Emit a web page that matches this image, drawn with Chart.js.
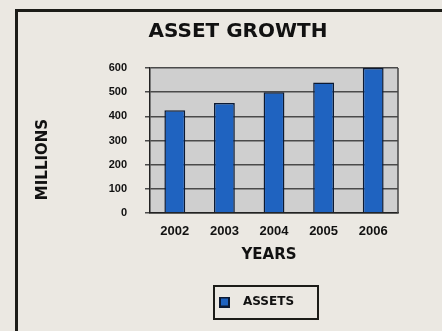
<!DOCTYPE html>
<html>
<head>
<meta charset="utf-8">
<script src="https://cdn.jsdelivr.net/npm/chart.js@4"></script>
<style>
  html, body { margin: 0; padding: 0; }
  body { width: 442px; height: 331px; background: #ebe8e2; position: relative; overflow: hidden; }
  #frame { position: absolute; left: 15px; top: 9px; width: 500px; height: 400px;
           border-left: 3px solid #1c1c18; border-top: 3px solid #1c1c18; }
  #wrap { position: absolute; left: 0; top: 0; width: 442px; height: 331px; }
</style>
</head>
<body>
<div id="frame"></div>
<div id="wrap"><canvas id="c" width="442" height="331"></canvas></div>
<script>
const years = ['2002', '2003', '2004', '2005', '2006'];
const assets = [425, 455, 500, 540, 600];
const yTicks = [0, 100, 200, 300, 400, 500, 600];
const chartTitle = 'ASSET GROWTH';
const yTitle = 'MILLIONS';
const xTitle = 'YEARS';
const seriesName = 'ASSETS';

const BAR_BLUE = '#1f63c0';
const BAR_EDGE = '#0c1a33';

// small legend swatch
const sw = document.createElement('canvas');
sw.width = 11; sw.height = 11;
(function () {
  const g = sw.getContext('2d');
  g.fillStyle = BAR_EDGE; g.fillRect(0, 0, 11, 11);
  g.fillStyle = BAR_BLUE; g.fillRect(2, 2, 7, 7);
})();

function offsetTitle(scale, dx, dy) {
  if (scale._titleWrapped) return;
  const orig = scale.drawTitle;
  scale.drawTitle = function () {
    const ctx = this.ctx;
    ctx.save();
    ctx.translate(dx, dy);
    orig.apply(this, arguments);
    ctx.restore();
  };
  scale._titleWrapped = true;
}

const shiftPlugin = {
  id: 'shift',
  afterLayout(chart) {
    const t = chart.titleBlock;
    if (t) { t.left += 22; t.right += 22; }
    const l = chart.legend;
    if (l) { l.left += 37; l.right += 37; }
    offsetTitle(chart.scales.y, 0, 19);
    offsetTitle(chart.scales.x, -5, 0);
  },
  beforeDraw(chart) {
    const {ctx, chartArea: a} = chart;
    ctx.save();
    ctx.fillStyle = '#cfcfcf';
    ctx.fillRect(a.left, a.top, a.right - a.left, a.bottom - a.top);
    ctx.restore();
  },
  afterDraw(chart) {
    const {ctx, chartArea: a} = chart;
    ctx.save();
    ctx.strokeStyle = '#444';
    ctx.lineWidth = 1.5;
    ctx.beginPath();
    ctx.moveTo(a.right, a.top); ctx.lineTo(a.right, a.bottom);
    ctx.stroke();
    // legend frame
    const l = chart.legend;
    if (l && l.legendHitBoxes && l.legendHitBoxes.length) {
      ctx.strokeStyle = '#1c1c18';
      ctx.lineWidth = 2;
      ctx.strokeRect(214, 286, 104, 33);
    }
    ctx.restore();
  }
};

new Chart(document.getElementById('c'), {
  type: 'bar',
  data: {
    labels: years,
    datasets: [{
      label: seriesName,
      data: assets,
      backgroundColor: BAR_BLUE,
      borderColor: BAR_EDGE,
      borderWidth: 1.5,
      categoryPercentage: 1,
      barPercentage: 0.42,
      pointStyle: sw
    }]
  },
  options: {
    responsive: false,
    animation: false,
    devicePixelRatio: 1,
    layout: { padding: { left: 34, right: 44, top: 0, bottom: 13 } },
    plugins: {
      title: {
        display: true,
        text: chartTitle,
        color: '#111',
        font: { family: 'DejaVu Sans', size: 20, weight: 'bold' },
        padding: { top: 20, bottom: 24 }
      },
      legend: {
        display: true,
        position: 'bottom',
        labels: {
          usePointStyle: true,
          pointStyleWidth: 25,
          padding: 10,
          color: '#111',
          font: { family: 'DejaVu Sans', size: 12, weight: 'bold' }
        }
      },
      tooltip: { enabled: false }
    },
    scales: {
      x: {
        grid: { display: false, drawTicks: true, tickLength: 4 },
        border: { display: true, color: '#222', width: 1.5 },
        ticks: {
          color: '#111',
          padding: 7,
          font: { family: 'Liberation Sans', size: 13, weight: 'bold' }
        },
        title: {
          display: true,
          text: xTitle,
          color: '#111',
          font: { family: 'DejaVu Sans', size: 15, weight: 'bold' },
          padding: { top: 0, bottom: 22 }
        },
        afterFit(s) { s.height = 73; }
      },
      y: {
        min: 0,
        max: 600,
        afterBuildTicks(s) { s.ticks = yTicks.map(v => ({ value: v })); },
        grid: { color: '#4a4a4a', lineWidth: 1.5, tickLength: 5, drawTicks: true },
        border: { display: true, color: '#222', width: 1.5 },
        ticks: {
          color: '#111',
          padding: 18,
          font: { family: 'Liberation Sans', size: 11, weight: 'bold' }
        },
        title: {
          display: true,
          text: yTitle,
          color: '#111',
          font: { family: 'DejaVu Sans', size: 15, weight: 'bold' },
          padding: { top: 0, bottom: 0 }
        },
        afterFit(s) { s.width = 116; }
      }
    }
  },
  plugins: [shiftPlugin]
});
</script>
</body>
</html>
